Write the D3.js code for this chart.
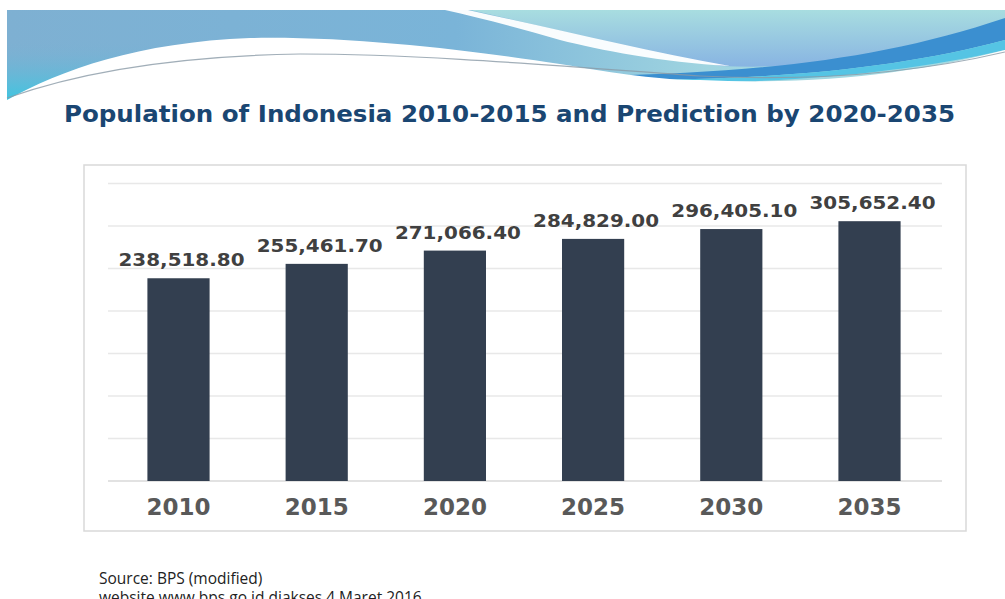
<!DOCTYPE html>
<html>
<head>
<meta charset="utf-8">
<script src="https://cdn.jsdelivr.net/npm/d3@7"></script>
<style>
  html, body { margin: 0; padding: 0; background: #ffffff; overflow: hidden; }
  svg { display: block; }
</style>
</head>
<body>
<svg id="chart" width="1005" height="599"></svg>
<script>
// ---- data ----
const years = ["2010", "2015", "2020", "2025", "2030", "2035"];
const population = [238518.80, 255461.70, 271066.40, 284829.00, 296405.10, 305652.40];
const gridTicks = [0, 50000, 100000, 150000, 200000, 250000, 300000, 350000];
const titleText = "Population of Indonesia 2010-2015 and Prediction by 2020-2035";
const sourceLines = ["Source: BPS (modified)", "website www.bps.go.id diakses 4 Maret 2016"];

const svg = d3.select("#chart");
const defs = svg.append("defs");

// ---- decorative banner ----
const g1 = defs.append("linearGradient").attr("id", "bgGrad").attr("x1", 0).attr("y1", 0).attr("x2", 1).attr("y2", 0);
g1.append("stop").attr("offset", "0").attr("stop-color", "#7eb0d2");
g1.append("stop").attr("offset", "0.45").attr("stop-color", "#7ab4d8");
g1.append("stop").attr("offset", "0.7").attr("stop-color", "#9fd4e0");
g1.append("stop").attr("offset", "1").attr("stop-color", "#a6dbe2");

const g2 = defs.append("linearGradient").attr("id", "cyanGrad").attr("x1", 0).attr("y1", 0).attr("x2", 0).attr("y2", 1);
g2.append("stop").attr("offset", "0").attr("stop-color", "#7eb0d2").attr("stop-opacity", 0);
g2.append("stop").attr("offset", "1").attr("stop-color", "#38c8e2").attr("stop-opacity", 1);

const g3 = defs.append("linearGradient").attr("id", "rightGrad").attr("x1", 0).attr("y1", 0).attr("x2", 0).attr("y2", 1);
g3.append("stop").attr("offset", "0").attr("stop-color", "#a8dde0");
g3.append("stop").attr("offset", "1").attr("stop-color", "#88b4e2");

const banner = svg.append("g");
banner.append("rect").attr("x", 7).attr("y", 10).attr("width", 998).attr("height", 92).attr("fill", "url(#bgGrad)");
banner.append("path").attr("d", "M7,40 L300,40 L300,102 L7,102 Z").attr("fill", "url(#cyanGrad)");
// right light region above white streak
banner.append("path")
  .attr("d", "M470,10 L1005,10 L1005,35 C930,55 820,70 720,66 C640,50 560,30 470,10 Z")
  .attr("fill", "url(#rightGrad)");
// upper white streak
banner.append("path")
  .attr("d", "M445,10 L468,10 C560,30 640,50 730,66 C660,62 600,50 560,40 C520,28 480,18 445,10 Z")
  .attr("fill", "#ffffff").attr("opacity", 0.95);
// blue stripe
banner.append("path")
  .attr("d", "M600,76 C760,72 880,60 1005,18 L1005,40 C900,68 780,80 620,80 Z")
  .attr("fill", "#3b8fd0");
banner.append("path")
  .attr("d", "M620,80 C780,80 900,68 1005,40 L1005,50 C900,74 780,84 640,83 Z")
  .attr("fill", "#55c4e4");
// white lower region
banner.append("path")
  .attr("d", "M7,100 C60,70 140,42 250,38 C360,36 480,52 560,64 C620,74 660,80 700,80 C820,86 920,72 1005,50 L1005,104 L7,104 Z")
  .attr("fill", "#ffffff");
// thin gray line
banner.append("path")
  .attr("d", "M7,98 C80,72 180,56 300,54 C420,54 560,66 700,76 C820,82 920,72 1005,52")
  .attr("fill", "none").attr("stroke", "#8a9aa6").attr("stroke-width", 1.2).attr("opacity", 0.8);

// ---- title ----
svg.append("text")
  .attr("x", 64).attr("y", 122)
  .attr("textLength", 891).attr("lengthAdjust", "spacingAndGlyphs")
  .attr("font-family", "DejaVu Sans, Verdana, sans-serif")
  .attr("font-weight", "bold").attr("font-size", 23)
  .attr("fill", "#1a4672")
  .text(titleText);

// ---- chart box ----
svg.append("rect")
  .attr("x", 84).attr("y", 165).attr("width", 882).attr("height", 366)
  .attr("fill", "#ffffff").attr("stroke", "#d9d9d9").attr("stroke-width", 1.5);

const x = d3.scaleBand().domain(years).range([109.4, 938.6]).paddingInner(0.55).paddingOuter(0.275);
const y = d3.scaleLinear().domain([0, 350000]).range([481, 183.5]);

const grid = svg.append("g");
grid.selectAll("line").data(gridTicks).join("line")
  .attr("x1", 108).attr("x2", 942)
  .attr("y1", d => y(d)).attr("y2", d => y(d))
  .attr("stroke", d => d === 0 ? "#d9d9d9" : "#e8e8e8").attr("stroke-width", 1.5);

const data = years.map((yr, i) => ({ year: yr, value: population[i] }));

svg.append("g").selectAll("rect").data(data).join("rect")
  .attr("x", d => x(d.year)).attr("width", x.bandwidth())
  .attr("y", d => y(d.value)).attr("height", d => y(0) - y(d.value))
  .attr("fill", "#333f50");

const fmt = d3.format(",.2f");
svg.append("g").selectAll("text").data(data).join("text")
  .attr("x", d => x(d.year) + x.bandwidth() / 2 + 3)
  .attr("y", d => y(d.value) - 12)
  .attr("text-anchor", "middle")
  .attr("textLength", 126).attr("lengthAdjust", "spacingAndGlyphs")
  .attr("font-family", "DejaVu Sans, Verdana, sans-serif")
  .attr("font-weight", "bold").attr("font-size", 18)
  .attr("fill", "#404040")
  .text(d => fmt(d.value));

// x axis labels
const xAxis = d3.axisBottom(x).tickSize(0).tickPadding(0);
const xg = svg.append("g").attr("transform", "translate(0,499)").call(xAxis);
xg.select(".domain").remove();
xg.selectAll("text")
  .attr("dy", "0.71em")
  .attr("font-family", "DejaVu Sans, Verdana, sans-serif")
  .attr("font-weight", "bold").attr("font-size", 23)
  .attr("fill", "#595959");

// ---- source ----
svg.append("g").selectAll("text").data(sourceLines).join("text")
  .attr("x", 99).attr("y", (d, i) => 584 + i * 19)
  .attr("font-family", "Open Sans, sans-serif")
  .attr("font-size", 15.5)
  .attr("fill", "#222222")
  .text(d => d);
</script>
</body>
</html>
